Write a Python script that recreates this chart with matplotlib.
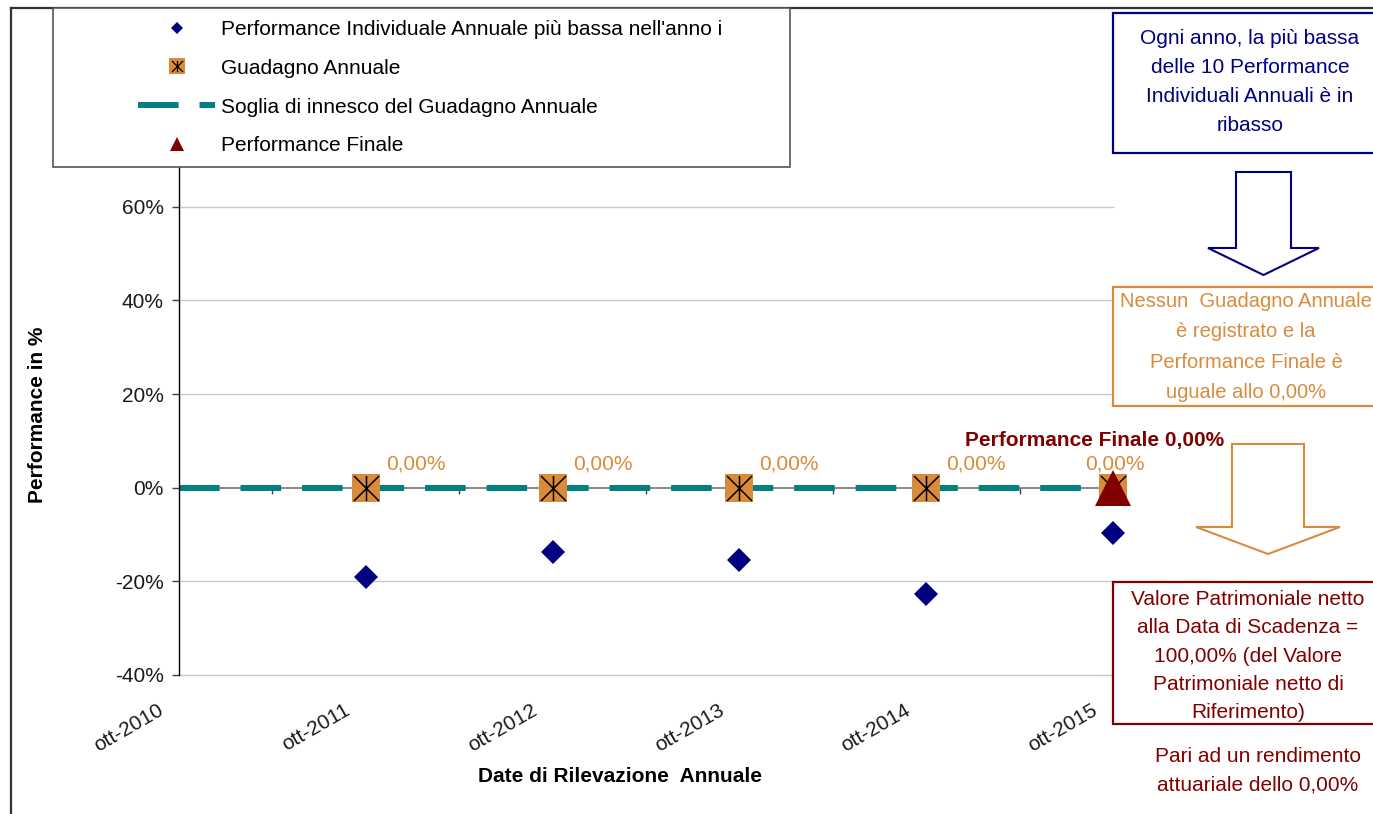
import matplotlib
matplotlib.use("Agg")
import matplotlib.pyplot as plt
import matplotlib.transforms as mtransforms
from matplotlib.lines import Line2D
from matplotlib.patches import Rectangle, Polygon
from matplotlib.path import Path
from matplotlib.legend_handler import HandlerTuple

plt.rcParams["font.family"] = ["Liberation Sans", "DejaVu Sans"]

# date di rilevazione (asse x) e valori in %
date_labels = ["ott-2010", "ott-2011", "ott-2012", "ott-2013", "ott-2014", "ott-2015"]
obs_years = [1, 2, 3, 4, 5]
worst_perf = [-19.0, -13.7, -15.4, -22.7, -9.7]
annual_gain = [0.0, 0.0, 0.0, 0.0, 0.0]
trigger_level = 0.0
final_perf = 0.0
y_ticks = [-40, -20, 0, 20, 40, 60]

NAVY = "#000080"
ORANGE = "#D98B3C"
TEAL = "#008080"
DARKRED = "#800000"
FS = 15

W, H = 1373, 814


def fx(x):
    return x / W


def fy(y):
    return 1 - y / H


def fmt_it(v):
    return f"{v:.2f}".replace(".", ",") + "%"


# asterisco a 6 punte (verticale + due diagonali)
asterisk = Path(
    [(0, -1), (0, 1), (-1, -1), (1, 1), (-1, 1), (1, -1)],
    [Path.MOVETO, Path.LINETO, Path.MOVETO, Path.LINETO, Path.MOVETO, Path.LINETO],
)

fig = plt.figure(figsize=(W / 100, H / 100), dpi=100)
ax = fig.add_axes([fx(179), fy(675), fx(1113) - fx(179), fy(160) - fy(675)])

ax.set_xlim(0, 5)
ax.set_ylim(-40, 70)

# griglia orizzontale e asse a 0
for t in y_ticks:
    if t != 0:
        ax.axhline(t, color="#c8c8c8", lw=1, zorder=0, clip_on=False)
ax.axhline(0, color="#808080", lw=1.3, zorder=1)
mids = [i + 0.5 for i in range(5)]
ax.plot(mids, [0] * len(mids), ls="none", marker=3, ms=4, color="#404040", mew=1, zorder=1)

# soglia di innesco
dash = (6.8, 3.5)
ax.plot([0, 5], [trigger_level, trigger_level], color=TEAL, lw=4.3,
        linestyle=(0, dash), solid_capstyle="butt", dash_capstyle="butt", zorder=2)

# performance individuale piu bassa
ax.plot(obs_years, worst_perf, ls="none", marker="D", ms=12.2, color=NAVY, mew=0,
        zorder=3, clip_on=False)

# guadagno annuale
ax.plot(obs_years, annual_gain, ls="none", marker="s", ms=20.5, color=ORANGE, mew=0,
        zorder=4, clip_on=False)
ax.plot(obs_years, annual_gain, ls="none", marker=asterisk, ms=18, mec="black", mew=1.1,
        mfc="none", zorder=5, clip_on=False)
for i, (xv, v) in enumerate(zip(obs_years, annual_gain)):
    if i < len(obs_years) - 1:
        ax.annotate(fmt_it(v), (xv, v), xytext=(14.5, 17), textcoords="offset points",
                    ha="left", va="center", color=ORANGE, fontsize=FS)
    else:
        ax.annotate(fmt_it(v), (xv, v), xytext=(1, 17), textcoords="offset points",
                    ha="center", va="center", color=ORANGE, fontsize=FS)

# performance finale
ax.plot([obs_years[-1]], [final_perf], ls="none", marker="^", ms=26, color=DARKRED, mew=0,
        zorder=6, clip_on=False)
ax.annotate("Performance Finale " + fmt_it(final_perf), (obs_years[-1], final_perf),
            xytext=(-13, 34), textcoords="offset points", ha="center", va="center",
            color=DARKRED, fontsize=FS, fontweight="bold")

# assi
for s in ["top", "right", "bottom"]:
    ax.spines[s].set_visible(False)
ax.spines["left"].set_color("black")
ax.spines["left"].set_linewidth(1)
ax.set_yticks(y_ticks)
ax.set_yticklabels([f"{t}%" for t in y_ticks], fontsize=FS, color="#1a1a1a")
ax.tick_params(axis="y", length=5, width=1, color="#404040", pad=6)
ax.set_xticks(range(len(date_labels)))
ax.set_xticklabels(date_labels, rotation=30, ha="right", va="center",
                   rotation_mode="anchor", fontsize=FS, color="#1a1a1a")
ax.tick_params(axis="x", length=0, pad=24.5)
shift = mtransforms.ScaledTranslation(-0.17, 0, fig.dpi_scale_trans)
for lab in ax.get_xticklabels():
    lab.set_transform(lab.get_transform() + shift)

fig.text(fx(38), fy(415), "Performance in %", rotation=90, ha="center", va="center",
         fontsize=FS, fontweight="bold")
fig.text(fx(620), fy(776), "Date di Rilevazione  Annuale", ha="center", va="center",
         fontsize=FS, fontweight="bold")

# legenda
h_worst = Line2D([], [], ls="none", marker="D", ms=6.6, color=NAVY, mew=0)
h_gain = (Line2D([], [], ls="none", marker="s", ms=12.2, color=ORANGE, mew=0),
          Line2D([], [], ls="none", marker=asterisk, ms=8, mec="black", mew=0.9, mfc="none"))
h_trig = Line2D([], [], color=TEAL, lw=4.3, linestyle=(0, dash), dash_capstyle="butt")
h_final = Line2D([], [], ls="none", marker="^", ms=9.6, color=DARKRED, mew=0)
leg = fig.legend(
    [h_worst, h_gain, h_trig, h_final],
    ["Performance Individuale Annuale più bassa nell'anno i", "Guadagno Annuale",
     "Soglia di innesco del Guadagno Annuale", "Performance Finale"],
    handler_map={tuple: HandlerTuple(ndivide=1)},
    loc="upper left", bbox_to_anchor=(fx(138), fy(20)), bbox_transform=fig.transFigure,
    frameon=False, borderpad=0, borderaxespad=0, handlelength=3.7, handletextpad=0.29,
    labelspacing=0.95, fontsize=FS,
)
fig.add_artist(Rectangle((fx(53), fy(167)), fx(790) - fx(53), fy(8) - fy(167),
                         transform=fig.transFigure, fill=True, facecolor="white",
                         edgecolor="#555555", lw=1.2, zorder=2.5))
leg.set_zorder(3)

# bordo della figura
fig.add_artist(Line2D([fx(11), fx(11)], [fy(8), 0], transform=fig.transFigure, color="#333333", lw=1.6))
fig.add_artist(Line2D([fx(11), 1], [fy(8), fy(8)], transform=fig.transFigure, color="#333333", lw=1.6))


def box(x0, y0, x1, y1, color):
    fig.add_artist(Rectangle((fx(x0), fy(y1)), fx(x1) - fx(x0), fy(y0) - fy(y1),
                             transform=fig.transFigure, facecolor="white",
                             edgecolor=color, lw=1.6, zorder=3))


def arrow(xs0, xs1, ytop, yshaft, xh0, xh1, ytip, color):
    xm = (xh0 + xh1) / 2
    pts = [(xs0, ytop), (xs1, ytop), (xs1, yshaft), (xh1, yshaft), (xm, ytip),
           (xh0, yshaft), (xs0, yshaft)]
    fig.add_artist(Polygon([(fx(a), fy(b)) for a, b in pts], closed=True,
                           transform=fig.transFigure, facecolor="white",
                           edgecolor=color, lw=1.5, zorder=3))


box(1113, 13, 1390, 153, NAVY)
fig.text(fx(1250), fy(82), "Ogni anno, la più bassa\ndelle 10 Performance\nIndividuali Annuali è in\nribasso",
         ha="center", va="center", color=NAVY, fontsize=FS, linespacing=1.67, zorder=4)
arrow(1236, 1291, 172, 248, 1208, 1319, 275, NAVY)

box(1113, 287, 1390, 406, ORANGE)
fig.text(fx(1246), fy(347), "Nessun  Guadagno Annuale\nè registrato e la\nPerformance Finale è\nuguale allo " + fmt_it(final_perf),
         ha="center", va="center", color=ORANGE, fontsize=14.5, linespacing=1.76, zorder=4)
arrow(1232, 1304, 444, 527, 1196, 1340, 554, ORANGE)

box(1113, 582, 1390, 724, DARKRED)
fig.text(fx(1248), fy(656), "Valore Patrimoniale netto\nalla Data di Scadenza =\n100,00% (del Valore\nPatrimoniale netto di\nRiferimento)",
         ha="center", va="center", color=DARKRED, fontsize=FS, linespacing=1.63, zorder=4)
fig.text(fx(1258), fy(771), "Pari ad un rendimento\nattuariale dello " + fmt_it(final_perf),
         ha="center", va="center", color=DARKRED, fontsize=FS, linespacing=1.63, zorder=4)

fig.savefig("out.png", dpi=100)
